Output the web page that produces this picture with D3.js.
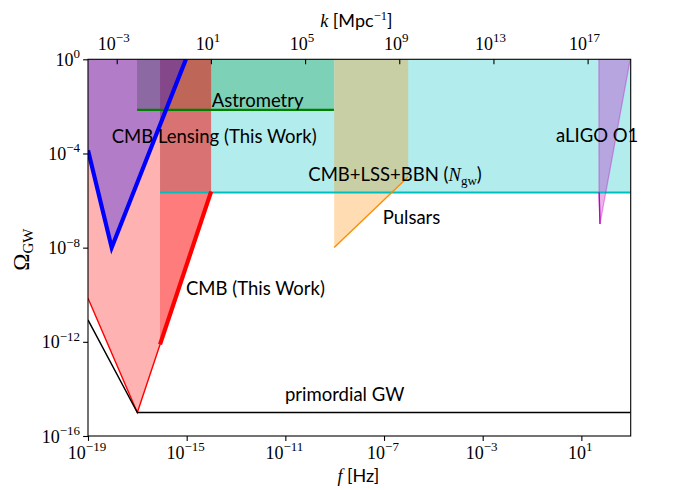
<!DOCTYPE html>
<html><head><meta charset="utf-8">
<script src="https://cdn.jsdelivr.net/npm/d3@7"></script>
<style>body{margin:0;background:#fff}</style>
</head><body><svg id="c" width="700" height="490"></svg>
<script>
// ---------- data ----------
const fDomain = [1e-19, 1e3];
const omegaDomain = [1e-16, 1];
const kDomain = [10 ** -4.22, 10 ** 18.83];
const fTicks = [-19, -15, -11, -7, -3, 1];
const omegaTicks = [-16, -12, -8, -4, 0];
const kTicks = [-3, 1, 5, 9, 13, 17];

// CMB Lensing (This Work) - blue
const lensingF = [1e-19, 10 ** -18.04, 10 ** -15.03];
const lensingO = [10 ** -3.86, 1e-8, 1];
// CMB (This Work) - red, thin full curve and thick segment
const cmbF = [1e-19, 1e-17, 10 ** -14.01];
const cmbO = [10 ** -10.15, 1e-15, 10 ** -5.62];
const cmbThickF = [10 ** -16.08, 10 ** -14.01];
const cmbThickO = [10 ** -12.11, 10 ** -5.62];
// Astrometry - green
const astroF = [10 ** -17.01, 10 ** -9.03];
const astroO = [10 ** -2.15, 10 ** -2.15];
// CMB+LSS+BBN (N_gw) - cyan
const nF = [10 ** -16.08, 1e3];
const nO = [10 ** -5.66, 10 ** -5.66];
// Pulsars - orange
const pulsarF = [10 ** -9.02, 10 ** -6.02];
const pulsarO = [10 ** -7.99, 10 ** -4.99];
// aLIGO O1 - magenta
const aligoF = [10 ** 1.71, 10 ** 1.715, 10 ** 1.755, 10 ** 2.98];
const aligoO = [1, 10 ** -5.45, 1e-7, 1];
// primordial GW - black
const primF = [1e-19, 1e-17, 1e3];
const primO = [10 ** -11.07, 1e-15, 1e-15];

// ---------- layout ----------
const L = 88, R = 630.7, T = 59.3, B = 436;
const svg = d3.select("#c");
const x = d3.scaleLog().domain(fDomain).range([L, R]);
const y = d3.scaleLog().domain(omegaDomain).range([B, T]);
const xk = d3.scaleLog().domain(kDomain).range([L, R]);

const SANS = "Lato, 'Open Sans', sans-serif";
const SERIF = "'Liberation Serif', 'DejaVu Serif', serif";

svg.append("defs").append("clipPath").attr("id", "plot")
  .append("rect").attr("x", L).attr("y", T).attr("width", R - L).attr("height", B - T);
const g = svg.append("g").attr("clip-path", "url(#plot)");

const pts = (F, O) => F.map((f, i) => ({ f, o: O[i] }));
const area = d3.area().x(d => x(d.f)).y0(d => y(d.o)).y1(() => y(1));
const line = d3.line().x(d => x(d.f)).y(d => y(d.o));

function fill(F, O, color, op) {
  g.append("path").attr("d", area(pts(F, O))).attr("fill", color).attr("fill-opacity", op);
}
function stroke(F, O, color, w, op) {
  return g.append("path").attr("d", line(pts(F, O))).attr("fill", "none")
    .attr("stroke", color).attr("stroke-width", w).attr("stroke-opacity", op == null ? 1 : op)
    .attr("stroke-linejoin", "miter");
}

// fills (order matters for overlaps)
fill(astroF, astroO, "#008000", 0.3);
fill(nF, nO, "#00bfbf", 0.3);
fill(pulsarF, pulsarO, "#ff8c00", 0.3);
fill(cmbF, cmbO, "#ff0000", 0.3);
fill(cmbThickF, cmbThickO, "#ff0000", 0.3);
fill(lensingF, lensingO, "#0000ff", 0.3);
fill(aligoF, aligoO, "#bf00bf", 0.3);

// lines
stroke(astroF, astroO, "#008000", 2.1);
stroke(nF, nO, "#00bfbf", 2.1);
stroke(pulsarF, pulsarO, "#ff8c00", 1.4);
stroke(cmbF, cmbO, "#ff0000", 1.4);
stroke(cmbThickF, cmbThickO, "#ff0000", 4.2);
stroke(lensingF, lensingO, "#0000ff", 4.2);
stroke(primF, primO, "#000000", 1.4);
stroke(aligoF, aligoO, "#bf00bf", 1.2, 0.35);
svg.append("defs").append("clipPath").attr("id", "belowN")
  .append("rect").attr("x", L).attr("y", y(nO[0])).attr("width", R - L).attr("height", B - y(nO[0]));
g.append("g").attr("clip-path", "url(#belowN)").append("path")
  .attr("d", line(pts(aligoF.slice(0, 3), aligoO.slice(0, 3))))
  .attr("fill", "none").attr("stroke", "#bf00bf").attr("stroke-width", 1.4);

// ---------- axes ----------
const tk = 4.9;
const xAxis = d3.axisBottom(x).tickValues(fTicks.map(e => 10 ** e)).tickFormat("").tickSize(tk);
const yAxis = d3.axisLeft(y).tickValues(omegaTicks.map(e => 10 ** e)).tickFormat("").tickSize(tk);
const kAxis = d3.axisTop(xk).tickValues(kTicks.map(e => 10 ** e)).tickFormat("").tickSize(-tk);
function styleAxis(s) {
  s.select(".domain").remove();
  s.selectAll(".tick line").attr("stroke", "#000").attr("stroke-width", 1.1);
}
svg.append("g").attr("transform", `translate(0,${B})`).call(xAxis).call(styleAxis);
svg.append("g").attr("transform", `translate(${L},0)`).call(yAxis).call(styleAxis);
svg.append("g").attr("transform", `translate(0,${T})`).call(kAxis).call(styleAxis);

function pow10(sel, e) {
  sel.append("tspan").text("10");
  sel.append("tspan").attr("dy", -7.5).attr("font-size", 13)
    .text(e < 0 ? "\u2212" + (-e) : String(e));
}
fTicks.forEach(e => {
  const t = svg.append("text").attr("x", x(10 ** e) - 1).attr("y", 458.5)
    .attr("text-anchor", "middle").attr("font-family", SERIF).attr("font-size", 18);
  pow10(t, e);
});
kTicks.forEach(e => {
  const t = svg.append("text").attr("x", xk(10 ** e) - 3).attr("y", 49.5)
    .attr("text-anchor", "middle").attr("font-family", SERIF).attr("font-size", 18);
  pow10(t, e);
});
omegaTicks.forEach(e => {
  const t = svg.append("text").attr("x", 80).attr("y", y(10 ** e) + 6.5)
    .attr("text-anchor", "end").attr("font-family", SERIF).attr("font-size", 18);
  pow10(t, e);
});

// frame
svg.append("rect").attr("x", L).attr("y", T).attr("width", R - L).attr("height", B - T)
  .attr("fill", "none").attr("stroke", "#000").attr("stroke-width", 1.1);

// axis titles
const xl = svg.append("text").attr("x", (L + R) / 2 - 1).attr("y", 481.5).attr("text-anchor", "middle")
  .attr("font-size", 18).attr("font-family", SANS);
xl.append("tspan").attr("font-family", SERIF).attr("font-style", "italic").text("f");
xl.append("tspan").text(" [Hz]");

const kl = svg.append("text").attr("x", (L + R) / 2 - 3).attr("y", 26.5).attr("text-anchor", "middle")
  .attr("font-size", 18).attr("font-family", SANS);
kl.append("tspan").attr("font-family", SERIF).attr("font-style", "italic").text("k");
kl.append("tspan").text(" [Mpc");
kl.append("tspan").attr("dy", -7).attr("font-size", 12.5).attr("font-family", SERIF).text("\u22121");
kl.append("tspan").attr("dy", 7).text("]");

const yl = svg.append("text").attr("transform", `translate(29,${(T + B) / 2 + 2}) rotate(-90)`)
  .attr("text-anchor", "middle").attr("font-family", SERIF).attr("font-size", 23);
yl.append("tspan").text("\u03A9");
yl.append("tspan").attr("dy", 4).attr("font-size", 15).text("GW");

// region labels
function label(txt, lx, ly) {
  return svg.append("text").attr("x", lx).attr("y", ly).attr("font-family", SANS)
    .attr("font-size", 18.5).attr("fill", "#000").text(txt);
}
label("Astrometry", 211.7, 106.5);
label("CMB Lensing (This Work)", 111.7, 143);
const nl = label("CMB+LSS+BBN (", 308.3, 181);
nl.append("tspan").attr("font-family", SERIF).attr("font-style", "italic").text("N");
nl.append("tspan").attr("font-family", SERIF).attr("font-size", 13).attr("dy", 4).text("gw");
nl.append("tspan").attr("dy", -4).text(")");
label("Pulsars", 382.7, 223.5);
label("CMB (This Work)", 186, 294.5);
label("primordial GW", 285, 401);
label("aLIGO O1", 556, 142);
</script>
</body></html>
